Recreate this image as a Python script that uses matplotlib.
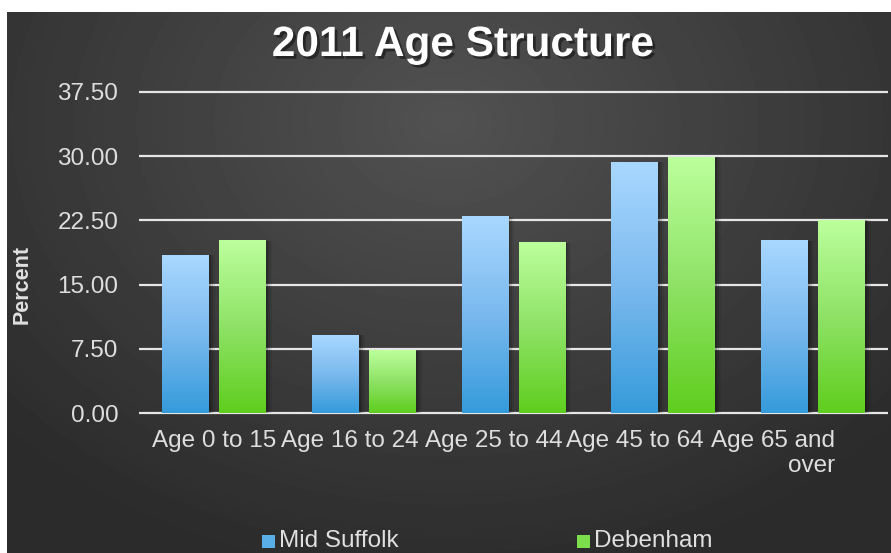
import numpy as np
import matplotlib
matplotlib.use("Agg")
import matplotlib.pyplot as plt
from matplotlib.colors import LinearSegmentedColormap
from matplotlib.patches import Rectangle
import matplotlib.transforms as mtransforms
import matplotlib.patheffects as pe
from matplotlib import font_manager

plt.rcParams['font.family'] = ['Liberation Sans', 'DejaVu Sans']

categories = ["Age 0 to 15", "Age 16 to 24", "Age 25 to 44", "Age 45 to 64", "Age 65 and\nover"]
series_names = ["Mid Suffolk", "Debenham"]
mid_suffolk = [18.4, 9.1, 22.9, 29.3, 20.1]
debenham = [20.1, 7.3, 19.9, 29.9, 22.5]
yticks = [0, 7.5, 15, 22.5, 30, 37.5]

W, H = 891, 553
fig = plt.figure(figsize=(W / 100, H / 100), dpi=100, facecolor='white')

# dark radial background
bg = fig.add_axes([7 / W, 0, (W - 7) / W, (H - 12) / H])
bg.axis('off')
yy, xx = np.mgrid[0:541, 0:884]
cx, cy = 440, 110
r = np.sqrt(((xx - cx) / 600) ** 2 + ((yy - cy) / 460) ** 2)
v = np.clip(0.32 - 0.15 * r, 0.17, 0.32)
bg.imshow(v, cmap='gray', vmin=0, vmax=1, aspect='auto', extent=[0, 1, 0, 1],
          origin='upper', interpolation='bilinear')
bg.set_xlim(0, 1)
bg.set_ylim(0, 1)

ax = fig.add_axes([139 / W, 1 - 413 / H, (888 - 139) / W, (413 - 92) / H])
ax.patch.set_alpha(0)
for s in ax.spines.values():
    s.set_visible(False)

x = np.arange(len(categories))
bw = 0.313
gap = 0.067
off = (bw + gap) / 2

cmaps = [LinearSegmentedColormap.from_list('b', ['#359bdb', '#7ab9ee', '#a9d8ff']),
         LinearSegmentedColormap.from_list('g', ['#5fce1e', '#8ee266', '#bcff9c'])]
legend_cols = ['#5aaee8', '#7dde4c']

grad = np.linspace(0, 1, 256).reshape(-1, 1)
for si, (vals, sign) in enumerate([(mid_suffolk, -1), (debenham, 1)]):
    bars = ax.bar(x + sign * off, vals, bw, color='none', zorder=3)
    for b in bars:
        x0, w, h = b.get_x(), b.get_width(), b.get_height()
        for k, a in [(2, 0.18), (4, 0.12), (6, 0.07)]:
            tr = ax.transData + mtransforms.ScaledTranslation(k / 100, 0, fig.dpi_scale_trans)
            ax.add_patch(Rectangle((x0, 0), w, h, facecolor='black', alpha=a,
                                   edgecolor='none', transform=tr, zorder=2.5))
        ax.imshow(grad, cmap=cmaps[si], extent=[x0, x0 + w, 0, h], origin='lower',
                  aspect='auto', zorder=3, interpolation='bilinear')

ax.set_xlim(-0.5, len(categories) - 0.5)
ax.set_ylim(0, 37.5)
ax.hlines(yticks, -0.5, len(categories) - 0.5, colors='#e6e6e6', lw=1.6,
          clip_on=False, zorder=2)

ax.set_yticks(yticks)
ax.set_yticklabels([f"{t:.2f}" for t in yticks])
ax.set_xticks(x)
ax.set_xticklabels(categories)
ax.tick_params(length=0, colors='#dedede', labelsize=17.5)
ax.tick_params(axis='y', pad=15)
ax.tick_params(axis='x', pad=12)
label_shift_px = [0, -14, -20, -28, -40]
for lbl, dx in zip(ax.get_xticklabels(), label_shift_px):
    lbl.set_multialignment('right')
    lbl.set_transform(lbl.get_transform() + mtransforms.ScaledTranslation(dx / 100, 0, fig.dpi_scale_trans))

names = {f.name for f in font_manager.fontManager.ttflist}
if 'Liberation Sans Narrow' in names:
    tfam, tsize = ['Liberation Sans Narrow', 'Liberation Sans'], 36.5
else:
    tfam, tsize = ['Liberation Sans'], 30.5
fig.text(463 / W, 1 - 45 / H, "2011 Age Structure", ha='center', va='center',
         fontsize=tsize, weight='bold', color='white', family=tfam,
         path_effects=[pe.withSimplePatchShadow(offset=(2, -2), shadow_rgbFace='black', alpha=0.45)])
fig.text(22 / W, 1 - 285 / H, "Percent", rotation=90, ha='center', va='center',
         fontsize=15.5, weight='bold', color='#e0e0e0')

# legend
for name, mx, col in zip(series_names, [262, 577], legend_cols):
    fig.patches.append(Rectangle((mx / W, 1 - 548 / H), 13 / W, 13 / H, facecolor=col,
                                 edgecolor='none', transform=fig.transFigure, figure=fig))
    fig.text((mx + 17) / W, 1 - 541 / H, name, ha='left', va='center',
             fontsize=17.5, color='#e0e0e0')

fig.savefig("out.png", dpi=100, facecolor=fig.get_facecolor())
